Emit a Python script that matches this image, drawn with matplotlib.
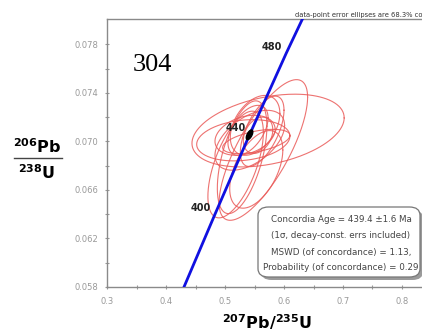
import numpy as np
import matplotlib
matplotlib.use("Agg")
import matplotlib.pyplot as plt
from matplotlib.patches import FancyBboxPatch

# ---- data ----
# concordia curve points (207Pb/235U, 206Pb/238U)
conc_x = [0.420, 0.483, 0.542, 0.604, 0.640]
conc_y = [0.0568, 0.0640, 0.0706, 0.0773, 0.0810]
# age marks on concordia
age_labels = ["400", "440", "480"]
age_x = [0.483, 0.542, 0.604]
age_y = [0.0640, 0.0706, 0.0773]

# analysis error ellipses: centre x, centre y, half-width x, half-height y, rho
ell_cx = [0.573, 0.553, 0.518, 0.565, 0.531, 0.529, 0.553, 0.539, 0.551, 0.534, 0.556, 0.542, 0.563]
ell_cy = [0.0709, 0.0700, 0.0681, 0.0693, 0.0701, 0.0687, 0.0677, 0.07092, 0.07133, 0.07051, 0.07051, 0.0701, 0.07084]
ell_sx = [0.129, 0.057, 0.047, 0.075, 0.079, 0.042, 0.045, 0.034, 0.042, 0.051, 0.025, 0.059, 0.037]
ell_sy = [0.0030, 0.0010, 0.0044, 0.0058, 0.0017, 0.00465, 0.0032, 0.00206, 0.00247, 0.00165, 0.0015, 0.00247, 0.0029]
ell_rho = [0.35, 0.5, 0.6, 0.75, 0.2, 0.55, 0.5, 0.5, 0.4, 0.3, 0.3, 0.5, 0.6]

# concordia age ellipse
age_cx, age_cy, age_sx, age_sy, age_rho = 0.5416, 0.07055, 0.0055, 0.00040, 0.6

x_ticks = [0.3, 0.4, 0.5, 0.6, 0.7, 0.8]
y_ticks = [0.058, 0.062, 0.066, 0.070, 0.074, 0.078]

box_lines = ["Concordia Age = 439.4 \u00b11.6 Ma",
             "(1\u03c3, decay-const. errs included)",
             "MSWD (of concordance) = 1.13,",
             "Probability (of concordance) = 0.29"]

W, H = 422, 334
fig = plt.figure(figsize=(W / 100, H / 100), dpi=100)
ax = fig.add_axes([107 / W, 47 / H, 324.5 / W, 268 / H])
ax.set_xlim(0.3, 0.85)
ax.set_ylim(0.058, 0.0801)

t = np.linspace(0, 2 * np.pi, 200)


def ellipse_xy(cx, cy, sx, sy, rho):
    x = cx + sx * np.cos(t)
    y = cy + sy * (rho * np.cos(t) + np.sqrt(1 - rho ** 2) * np.sin(t))
    return x, y


for cx, cy, sx, sy, r in zip(ell_cx, ell_cy, ell_sx, ell_sy, ell_rho):
    ex, ey = ellipse_xy(cx, cy, sx, sy, r)
    ax.plot(ex, ey, color="#ea5a58", lw=0.8, alpha=0.85, zorder=2)

ax.plot(conc_x, conc_y, color="#1010e0", lw=2.0, zorder=3)

ex, ey = ellipse_xy(age_cx, age_cy, age_sx, age_sy, age_rho)
ax.fill(ex, ey, color="black", zorder=4)

for lab, x, y in zip(age_labels, age_x, age_y):
    ax.annotate(lab, (x, y), xytext=(-3, 1), textcoords="offset points",
                ha="right", va="bottom", fontsize=7, fontweight="bold",
                color="#222222", zorder=5)

ax.text(133 / W, 1 - 65 / H, "304", transform=fig.transFigure,
        fontsize=19, family="Liberation Serif", va="center", ha="left")

ax.set_xticks(x_ticks)
ax.set_xticklabels([f"{v:.1f}" for v in x_ticks])
ax.set_yticks(y_ticks)
ax.set_yticklabels([f"{v:.3f}" for v in y_ticks])
ax.set_xticks([v + 0.05 for v in x_ticks], minor=True)
ax.set_yticks([v + 0.002 for v in y_ticks[:-1]], minor=True)
ax.tick_params(axis="both", which="major", labelsize=6, labelcolor="#999999",
               color="#999999", length=3, width=0.8, direction="inout")
ax.tick_params(axis="both", which="minor", color="#999999", length=3,
               width=0.8, direction="inout")
ax.tick_params(axis="x", pad=6)
ax.tick_params(axis="y", pad=5)
for s in ax.spines.values():
    s.set_color("#8a8a8a")
    s.set_linewidth(1.0)

# axis labels
fig.text(267 / W, 1 - 322 / H, r"$\mathbf{^{207}Pb/^{235}U}$", fontsize=11.5,
         ha="center", va="center")
fig.text(37 / W, 1 - 147 / H, r"$\mathbf{^{206}Pb}$", fontsize=11.5,
         ha="center", va="center")
fig.text(37 / W, 1 - 173 / H, r"$\mathbf{^{238}U}$", fontsize=11.5,
         ha="center", va="center")
fig.add_artist(plt.Line2D([14 / W, 62 / W], [1 - 158 / H, 1 - 158 / H],
                          color="#444444", lw=1.0, transform=fig.transFigure))

# top note (cut off at "co" in the reference)
fig.text(295 / W, 1 - 15 / H, "data-point error ellipses are 68.3% co",
         fontsize=4.9, ha="left", va="center", color="#333333")

# result box with shadow
bx0, by0, bw, bh = 258 / W, 1 - 277 / H, 162 / W, 70 / H
shadow = FancyBboxPatch((bx0 + 3 / W, by0 - 3 / H), bw, bh,
                        boxstyle="round,pad=0,rounding_size=0.025",
                        transform=fig.transFigure, facecolor="#9a9a9a",
                        edgecolor="none", zorder=6)
box = FancyBboxPatch((bx0, by0), bw, bh,
                     boxstyle="round,pad=0,rounding_size=0.025",
                     transform=fig.transFigure, facecolor="white",
                     edgecolor="#777777", lw=0.9, zorder=7)
fig.add_artist(shadow)
fig.add_artist(box)
for i, line in enumerate(box_lines):
    fig.text(341 / W, 1 - (220 + 16 * i) / H, line, fontsize=6.3,
             ha="center", va="center", color="#444444", zorder=8)

fig.savefig("out.png", dpi=100)
